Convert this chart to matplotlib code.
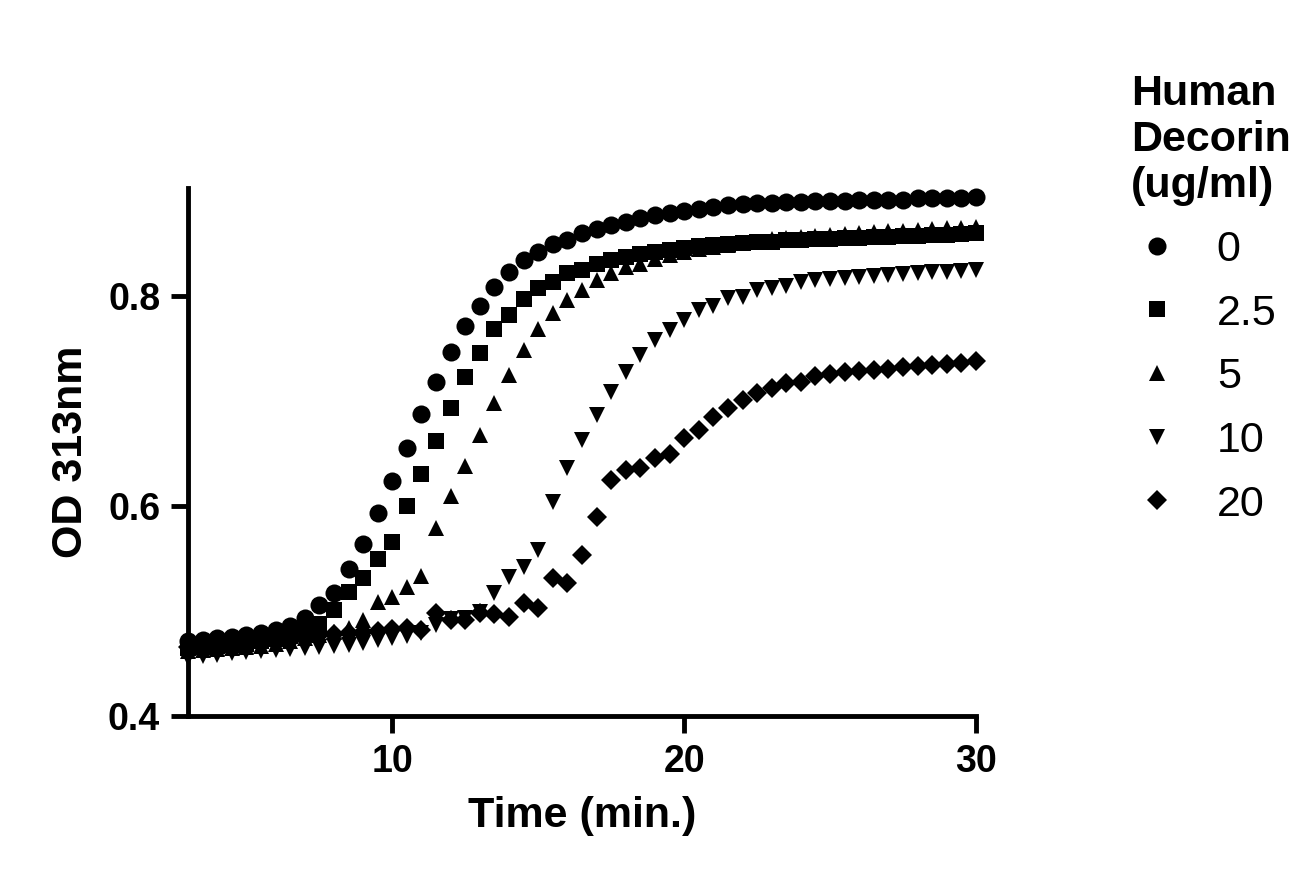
import numpy as np
import matplotlib.pyplot as plt

plt.rcParams["font.family"] = "Liberation Sans"

time = np.arange(3, 30.01, 0.5)
labels = ["0", "2.5", "5", "10", "20"]
markers = ["o", "s", "^", "v", "D"]

od_0 = [0.471, 0.472, 0.474, 0.475, 0.477, 0.479, 0.482, 0.486, 0.493, 0.506,
        0.517, 0.540, 0.564, 0.593, 0.624, 0.655, 0.688, 0.718, 0.747, 0.772,
        0.791, 0.809, 0.823, 0.834, 0.842, 0.850, 0.853, 0.860, 0.864, 0.868,
        0.871, 0.874, 0.877, 0.879, 0.881, 0.883, 0.885, 0.887, 0.888, 0.889,
        0.889, 0.890, 0.890, 0.891, 0.891, 0.891, 0.892, 0.892, 0.892, 0.892,
        0.893, 0.893, 0.893, 0.893, 0.894]
od_2_5 = [0.465, 0.466, 0.467, 0.468, 0.469, 0.471, 0.473, 0.476, 0.481, 0.488,
          0.501, 0.518, 0.531, 0.550, 0.566, 0.600, 0.631, 0.662, 0.693, 0.723,
          0.746, 0.769, 0.782, 0.797, 0.808, 0.813, 0.822, 0.825, 0.831, 0.834,
          0.837, 0.840, 0.842, 0.844, 0.846, 0.848, 0.849, 0.850, 0.851, 0.852,
          0.852, 0.853, 0.853, 0.854, 0.854, 0.855, 0.855, 0.856, 0.856, 0.857,
          0.857, 0.858, 0.858, 0.859, 0.860]
od_5 = [0.462, 0.463, 0.464, 0.465, 0.466, 0.467, 0.469, 0.471, 0.474, 0.477,
        0.480, 0.484, 0.491, 0.509, 0.513, 0.523, 0.533, 0.579, 0.610, 0.638,
        0.668, 0.698, 0.725, 0.749, 0.769, 0.784, 0.796, 0.806, 0.815, 0.822,
        0.828, 0.831, 0.835, 0.839, 0.842, 0.845, 0.847, 0.849, 0.851, 0.852,
        0.854, 0.855, 0.856, 0.857, 0.858, 0.859, 0.860, 0.861, 0.862, 0.862,
        0.863, 0.864, 0.865, 0.865, 0.866]
od_10 = [0.455, 0.457, 0.458, 0.460, 0.461, 0.462, 0.463, 0.464, 0.465, 0.466,
         0.467, 0.468, 0.470, 0.472, 0.474, 0.476, 0.479, 0.487, 0.492, 0.493,
         0.499, 0.517, 0.532, 0.542, 0.558, 0.604, 0.636, 0.663, 0.687, 0.709,
         0.728, 0.744, 0.758, 0.768, 0.777, 0.787, 0.791, 0.798, 0.799, 0.806,
         0.808, 0.810, 0.813, 0.815, 0.816, 0.817, 0.818, 0.819, 0.820, 0.821,
         0.822, 0.823, 0.823, 0.824, 0.825]
od_20 = [0.466, 0.467, 0.468, 0.469, 0.470, 0.471, 0.472, 0.474, 0.475, 0.477,
         0.478, 0.479, 0.480, 0.481, 0.483, 0.484, 0.482, 0.498, 0.491, 0.491,
         0.498, 0.497, 0.494, 0.508, 0.503, 0.531, 0.527, 0.553, 0.590, 0.625,
         0.634, 0.636, 0.646, 0.650, 0.665, 0.672, 0.685, 0.693, 0.701, 0.708,
         0.712, 0.717, 0.718, 0.724, 0.726, 0.728, 0.729, 0.730, 0.731, 0.732,
         0.733, 0.734, 0.735, 0.736, 0.738]
series = [od_0, od_2_5, od_5, od_10, od_20]

fig = plt.figure(figsize=(12.99, 8.93), dpi=100)
ax = fig.add_axes([188 / 1299, 1 - 716 / 893, (976 - 188) / 1299, (716 - 188) / 893])
for vals, m, lab in zip(series, markers, labels):
    ms = 10 if m == "D" else 13 if m == "o" else 12
    ax.plot(time, vals, linestyle="none", marker=m, color="black", markersize=ms,
            markeredgewidth=0, label=lab, clip_on=False)

ax.set_xlim(3, 30)
ax.set_ylim(0.4, 0.903)
ax.set_xticks([10, 20, 30])
ax.set_yticks([0.4, 0.6, 0.8])
ax.set_yticklabels(["0.4", "0.6", "0.8"])
for s in ("top", "right"):
    ax.spines[s].set_visible(False)
for s in ("left", "bottom"):
    ax.spines[s].set_linewidth(3.5)
ax.tick_params(width=3.5, length=12, labelsize=27, pad=8)
for t in ax.get_xticklabels() + ax.get_yticklabels():
    t.set_fontweight("bold")
ax.set_xlabel("Time (min.)", fontsize=31, fontweight="bold", labelpad=12)
ax.set_ylabel("OD 313nm", fontsize=31, fontweight="bold", labelpad=12)

leg = fig.legend(loc="upper left", bbox_to_anchor=(1092 / 1299, 1 - 35 / 893),
                 frameon=False, fontsize=31, title="Human\nDecorin\n(ug/ml)",
                 title_fontproperties={"size": 31, "weight": "bold"},
                 handletextpad=0.8, labelspacing=0.55, markerscale=1.0,
                 handlelength=1.2)
leg._legend_box.align = "left"

fig.savefig("out.png", dpi=100)
